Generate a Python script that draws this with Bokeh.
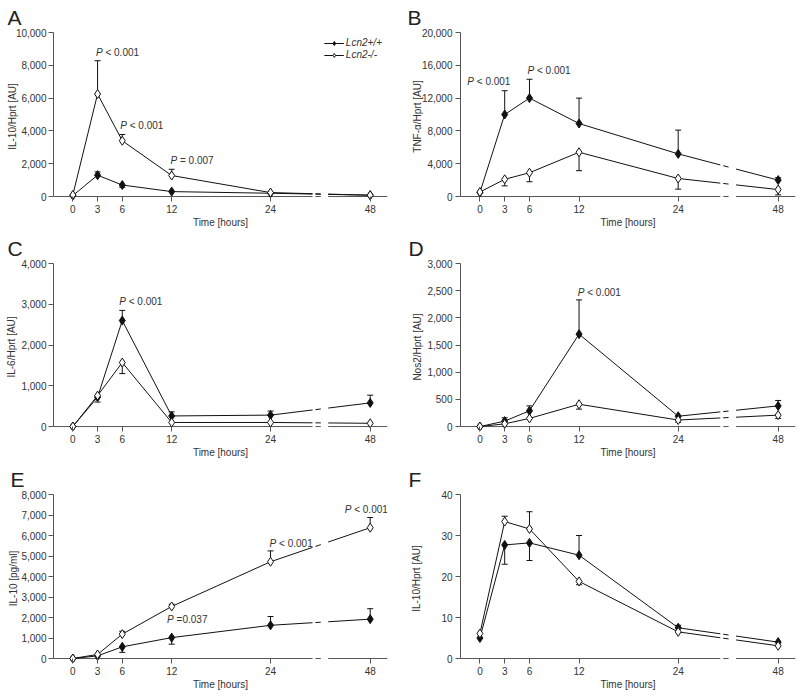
import numpy as np
from bokeh.plotting import figure
from bokeh.layouts import gridplot
from bokeh.models import FixedTicker, NumeralTickFormatter, Legend, LegendItem
from bokeh.core.properties import value
from bokeh.embed import file_html
from bokeh.resources import INLINE

# ---------------- data ----------------
times = [0, 3, 6, 12, 24, 48]
time_labels = ["0", "3", "6", "12", "24", "48"]
series_names = ["Lcn2+/+", "Lcn2-/-"]
x_title = "Time [hours]"

# A: IL-10/Hprt [AU]
a_wt = [60, 1300, 700, 300, 200, 80]
a_wt_bar = [60, 1500, 560, 300, 200, 80]
a_ko = [100, 6250, 3400, 1280, 240, 80]
a_ko_bar = [100, 8280, 3780, 1660, 240, 80]
a_ticks = [0, 2000, 4000, 6000, 8000, 10000]

# B: TNF-a/Hprt [AU]
b_wt = [500, 10000, 12000, 8900, 5200, 2000]
b_wt_bar = [500, 12900, 14300, 12000, 8100, 2300]
b_ko = [550, 2100, 2900, 5400, 2200, 850]
b_ko_bar = [550, 1300, 1800, 3150, 900, 200]
b_ticks = [0, 4000, 8000, 12000, 16000, 20000]

# C: IL-6/Hprt [AU]
c_wt = [0, 720, 2600, 260, 280, 580]
c_wt_bar = [0, 720, 2850, 360, 380, 770]
c_ko = [0, 760, 1570, 100, 100, 80]
c_ko_bar = [0, 600, 1300, 100, 100, 80]
c_ticks = [0, 1000, 2000, 3000, 4000]

# D: Nos2/Hprt [AU]
d_wt = [0, 100, 290, 1700, 190, 380]
d_wt_bar = [0, 160, 380, 2330, 190, 480]
d_ko = [0, 50, 150, 410, 120, 210]
d_ko_bar = [0, 50, 150, 320, 80, 150]
d_ticks = [0, 500, 1000, 1500, 2000, 2500, 3000]

# E: IL-10 [pg/ml]
e_wt = [0, 130, 570, 1020, 1620, 1920]
e_wt_bar = [0, 130, 300, 700, 2050, 2430]
e_ko = [0, 200, 1190, 2540, 4720, 6380]
e_ko_bar = [0, 200, 1330, 2650, 5250, 6880]
e_ticks = [0, 1000, 2000, 3000, 4000, 5000, 6000, 7000, 8000]

# F: IL-10/Hprt [AU]
f_wt = [5.0, 27.7, 28.2, 25.2, 7.5, 4.0]
f_wt_bar = [5.0, 23.0, 23.9, 30.0, 8.1, 4.0]
f_ko = [6.1, 33.4, 31.6, 18.8, 6.5, 3.1]
f_ko_bar = [6.1, 34.7, 35.8, 18.0, 6.5, 3.1]
f_ticks = [0, 10, 20, 30, 40]

# p-value notes: (x on the broken axis, y, text after the italic P)
a_notes = [(2.8, 8800, "< 0.001"), (5.75, 4320, "< 0.001"), (11.85, 2190, "= 0.007")]
b_notes = [(-1.53, 13980, "< 0.001"), (5.76, 15360, "< 0.001")]
c_notes = [(5.63, 3056, "< 0.001")]
d_notes = [(11.84, 2473, "< 0.001")]
e_notes = [(33.0, 7270, "< 0.001"), (23.88, 5600, "< 0.001"), (11.44, 1910, "=0.037")]
f_notes = []

# ---------------- style / layout ----------------
FONT = "Liberation Sans"
INK = "#111111"
AXIS = "#555555"
TEXT = "#333333"
DELTA = 4  # px between zero line and frame bottom
FRAME_H = 169
X_START, X_END = -2.35, 38.2
BREAK_START, DASH_START, DASH_END, BREAK_END = 29.1, 29.45, 30.1, 31.0


def disp(t):
    return t if t <= 24 else 24 + (t - 24) * 12.1 / 24


XD = [disp(t) for t in times]


def broken(xs, ys):
    x24, x48 = xs[4], xs[5]
    y24, y48 = ys[4], ys[5]

    def f(b):
        return float(np.interp(b, [x24, x48], [y24, y48]))

    X = list(xs[:5]) + [BREAK_START, np.nan, DASH_START, DASH_END, np.nan, BREAK_END, x48]
    Y = list(ys[:5]) + [f(BREAK_START), np.nan, f(DASH_START), f(DASH_END), np.nan, f(BREAK_END), y48]
    return np.array(X, dtype=float), np.array(Y, dtype=float)


panels = [
    dict(letter="A", ylabel="IL-10/Hprt [AU]", ticks=a_ticks, wt=a_wt, wtb=a_wt_bar, ko=a_ko, kob=a_ko_bar,
         notes=a_notes, legend=True, w=400, h=230, mbl=53, mbr=13, mbt=32, tls=2, yls=-5),
    dict(letter="B", ylabel="TNF-\u03b1/Hprt [AU]", ticks=b_ticks, wt=b_wt, wtb=b_wt_bar, ko=b_ko, kob=b_ko_bar,
         notes=b_notes, legend=False, w=400, h=230, mbl=60, mbr=5, mbt=32, tls=3, yls=-4),
    dict(letter="C", ylabel="IL-6/Hprt [AU]", ticks=c_ticks, wt=c_wt, wtb=c_wt_bar, ko=c_ko, kob=c_ko_bar,
         notes=c_notes, legend=False, w=400, h=232, mbl=53, mbr=13, mbt=33, tls=2, yls=1),
    dict(letter="D", ylabel="Nos2/Hprt [AU]", ticks=d_ticks, wt=d_wt, wtb=d_wt_bar, ko=d_ko, kob=d_ko_bar,
         notes=d_notes, legend=False, w=400, h=232, mbl=59, mbr=5, mbt=31, tls=3, yls=1),
    dict(letter="E", ylabel="IL-10 [pg/ml]", ticks=e_ticks, wt=e_wt, wtb=e_wt_bar, ko=e_ko, kob=e_ko_bar,
         notes=e_notes, legend=False, w=400, h=236, mbl=50, mbr=10, mbt=31, tls=2, yls=-1),
    dict(letter="F", ylabel="IL-10/Hprt [AU]", ticks=f_ticks, wt=f_wt, wtb=f_wt_bar, ko=f_ko, kob=f_ko_bar,
         notes=f_notes, legend=False, w=400, h=236, mbl=59, mbr=5, mbt=32, tls=3, yls=16),
]


def build(cfg):
    ymax = cfg["ticks"][-1]
    ystart = -ymax * DELTA / (FRAME_H - DELTA)
    mbb = cfg["h"] - cfg["mbt"] - FRAME_H
    p = figure(width=cfg["w"], height=cfg["h"], x_range=(X_START, X_END), y_range=(ystart, ymax),
               output_backend="svg", toolbar_location=None, title=cfg["letter"],
               min_border_left=cfg["mbl"], min_border_right=cfg["mbr"],
               min_border_top=cfg["mbt"], min_border_bottom=mbb)
    p.outline_line_color = None
    p.xgrid.visible = False
    p.ygrid.visible = False
    p.background_fill_color = "white"
    p.border_fill_color = "white"

    t = p.title
    t.text_font = FONT
    t.text_font_size = "21px"
    t.text_font_style = "normal"
    t.text_color = "#222222"
    t.align = "left"
    t.offset = -(cfg["mbl"] - 7)
    t.standoff = 7

    xa = p.xaxis[0]
    ya = p.yaxis[0]
    for ax in (xa, ya):
        ax.minor_tick_line_color = None
        ax.major_tick_line_color = AXIS
        ax.major_label_text_font = FONT
        ax.major_label_text_font_size = "10px"
        ax.major_label_text_color = TEXT
        ax.axis_label_text_font = FONT
        ax.axis_label_text_font_size = "10px"
        ax.axis_label_text_font_style = "normal"
        ax.axis_label_text_color = TEXT

    xa.ticker = FixedTicker(ticks=XD)
    xa.major_label_overrides = {XD[i]: time_labels[i] for i in range(len(XD))}
    xa.axis_line_color = None
    xa.major_tick_in = DELTA
    xa.major_tick_out = 5 - DELTA
    xa.major_label_standoff = 3
    xa.axis_label_standoff = 1
    xa.axis_label = x_title

    ya.ticker = FixedTicker(ticks=cfg["ticks"])
    ya.formatter = NumeralTickFormatter(format="0,0")
    ya.axis_line_color = AXIS
    ya.bounds = (0, ymax)
    ya.major_tick_in = 0
    ya.major_tick_out = 5
    ya.major_label_standoff = cfg["tls"]
    ya.axis_label_standoff = cfg["yls"]
    ya.axis_label = cfg["ylabel"]

    # broken x axis line at zero
    p.segment(x0=[X_START, DASH_START, BREAK_END], y0=[0, 0, 0],
              x1=[BREAK_START, DASH_END, X_END], y1=[0, 0, 0], line_color=AXIS, line_width=1)

    info = {}
    for key, bkey in (("wt", "wtb"), ("ko", "kob")):
        vals = cfg[key]
        bars = cfg[bkey]
        X, Y = broken(XD, vals)
        ln = p.line(x=X, y=Y, line_color=INK, line_width=1)
        idx = [i for i in range(len(vals)) if bars[i] != vals[i]]
        info[key] = (ln, [XD[i] for i in idx], [vals[i] for i in idx], [bars[i] for i in idx])

    for key in ("wt", "ko"):
        ln, bx, by0, by1 = info[key]
        if bx:
            p.segment(x0=bx, y0=by0, x1=bx, y1=by1, line_color=INK, line_width=1)
            p.scatter(x=bx, y=by1, marker="dash", size=6, line_color=INK, line_width=1)

    marks = {}
    for key, filled in (("wt", True), ("ko", False)):
        sc = p.scatter(x=XD, y=cfg[key], marker="diamond", size=9,
                       fill_color=INK if filled else "white", line_color=INK, line_width=1)
        marks[key] = [info[key][0], sc]

    for (nx, ny, rest) in cfg["notes"]:
        p.text(x=[nx], y=[ny], text=["P"], text_font=value(FONT), text_font_style="italic",
               text_font_size="10px", text_color=TEXT, text_baseline="middle", text_align="left")
        p.text(x=[nx], y=[ny], text=[rest], x_offset=9.5, text_font=value(FONT),
               text_font_size="10px", text_color=TEXT, text_baseline="middle", text_align="left")

    if cfg["legend"]:
        items = [LegendItem(label=series_names[0], renderers=marks["wt"]),
                 LegendItem(label=series_names[1], renderers=marks["ko"])]
        lg = Legend(items=items, location="top_right", label_text_font=FONT,
                    label_text_font_style="italic", label_text_font_size="10px",
                    label_text_color=TEXT, glyph_width=20, glyph_height=10, label_height=10,
                    spacing=1, padding=0, margin=5, label_standoff=2,
                    border_line_color=None, background_fill_alpha=0)
        p.add_layout(lg)
    return p


figs = [build(c) for c in panels]
grid = gridplot([[figs[0], figs[1]], [figs[2], figs[3]], [figs[4], figs[5]]], toolbar_location=None)

open("out.html", "w").write(file_html(grid, INLINE))
